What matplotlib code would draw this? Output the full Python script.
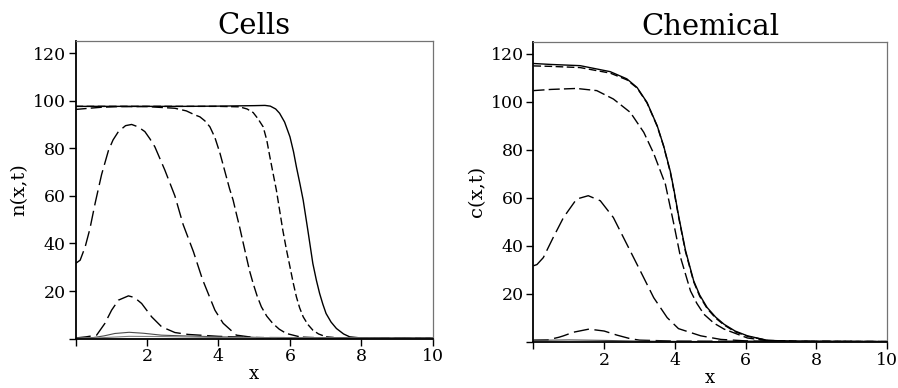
import matplotlib
matplotlib.use('Agg')
import matplotlib.pyplot as plt

plt.rcParams['font.family'] = ['DejaVu Serif']

# ---- Cells: n(x,t) ----
n_solid_x = [0, 1, 2, 3, 4, 5, 5.3, 5.45, 5.6, 5.71, 5.85, 6.0, 6.1, 6.18, 6.28, 6.37, 6.5, 6.64, 6.74, 6.83,
             6.92, 7.01, 7.15, 7.3, 7.5, 7.67, 8, 10]
n_solid_y = [97.6, 97.6, 97.6, 97.6, 97.7, 97.9, 98.0, 97.7, 96.5, 94.7, 91, 84.8, 78.5, 72.2, 65, 58.2, 45.6, 31.6,
             24.5, 19, 14.5, 10.6, 7, 4.3, 2, 0.8, 0.3, 0.1]

n_short_x = [0, 1, 2, 3, 4, 4.59, 4.8, 4.97, 5.1, 5.25, 5.35, 5.43, 5.52, 5.62, 5.71, 5.8, 5.9, 6.0, 6.09, 6.18,
             6.27, 6.37, 6.5, 6.64, 6.8, 7.01, 7.5, 10]
n_short_y = [97.6, 97.6, 97.6, 97.6, 97.6, 97.4, 96.5, 95, 92.5, 89, 83.5, 77, 70, 62.4, 54, 45.6, 37.5, 30.2, 23.5,
             17.6, 13, 9.2, 6, 3.6, 2, 0.8, 0.2, 0.1]

n_med_x = [0, 0.3, 0.7, 1.2, 2.0, 2.78, 3.1, 3.34, 3.48, 3.62, 3.76, 3.9, 4.04, 4.13, 4.22, 4.31, 4.41, 4.5, 4.59,
           4.68, 4.78, 4.87, 4.97, 5.08, 5.2, 5.35, 5.52, 5.7, 5.9, 6.3, 7, 10]
n_med_y = [96.3, 96.7, 97.2, 97.5, 97.5, 96.8, 95.7, 94, 93.2, 91.5, 89, 84.5, 78, 73, 68, 63, 58.2, 52.5, 47,
           41, 34.4, 28.5, 23.2, 18, 13.4, 9.5, 6.4, 4, 2.2, 0.7, 0.3, 0.1]

n_long_x = [0, 0.13, 0.27, 0.4, 0.55, 0.73, 0.92, 1.05, 1.2, 1.4, 1.57, 1.75, 1.94, 2.08, 2.22, 2.5, 2.78, 3.01,
            3.3, 3.55, 3.9, 4.13, 4.5, 5, 6, 10]
n_long_y = [31.6, 33, 38.6, 46, 57, 69, 79, 83.5, 87, 89.5, 90, 89, 87, 84, 80.6, 70.8, 60, 48, 36.5, 25, 12, 6.5,
            1.5, 0.5, 0.2, 0.1]

n_bump_x = [0, 0.3, 0.59, 0.82, 1.01, 1.2, 1.48, 1.65, 1.85, 2.13, 2.41, 2.78, 3.15, 4, 5, 10]
n_bump_y = [0.3, 0.8, 1.5, 6.4, 12, 16.2, 18, 17.3, 14.8, 9.2, 5, 2.6, 1.8, 1, 0.5, 0.2]

n_small_x = [0, 0.5, 0.8, 1.1, 1.5, 1.9, 2.4, 3, 4, 5, 10]
n_small_y = [0.3, 0.5, 1.2, 2.2, 2.7, 2.3, 1.5, 1.2, 0.8, 0.5, 0.2]

n_tiny_x = [0, 0.7, 1.5, 2.5, 4, 10]
n_tiny_y = [0.2, 0.4, 1.0, 0.9, 0.5, 0.2]

# ---- Chemical: c(x,t) ----
c_solid_x = [0, 0.5, 1.32, 2.17, 2.64, 2.93, 3.21, 3.5, 3.68, 3.87, 3.97, 4.11, 4.3, 4.53, 4.7, 4.91, 5.15, 5.39,
             5.7, 6.05, 6.62, 7.5, 10]
c_solid_y = [116, 115.6, 115.1, 112.6, 109.6, 106, 99.8, 90, 81.7, 71, 63.5, 52, 38, 25.4, 19.5, 14.3, 10.3, 7.3,
             4.5, 2.5, 0.6, 0.2, 0.1]

c_short_x = [0, 0.5, 1.32, 2.17, 2.64, 2.93, 3.21, 3.5, 3.68, 3.87, 3.97, 4.11, 4.3, 4.53, 4.7, 4.91, 5.15, 5.39,
             5.7, 6.05, 6.62, 7.5, 10]
c_short_y = [115, 114.8, 114.3, 112, 109.2, 105.8, 99.6, 89.8, 81.5, 70.6, 63, 51.5, 37.5, 25, 19, 13.9, 9.9, 7,
             4.2, 2.3, 0.6, 0.2, 0.1]

c_med_x = [0, 0.5, 1.22, 1.79, 2.26, 2.74, 3.12, 3.4, 3.64, 3.73, 3.97, 4.16, 4.44, 4.62, 4.82, 5.1, 5.39, 6.05,
           6.6, 7.5, 10]
c_med_y = [104.7, 105.2, 105.6, 104.7, 101.2, 95.6, 87.3, 78.5, 69.2, 65.7, 49, 35.1, 21.2, 16, 11.5, 7.8, 5.3,
           1.6, 0.5, 0.2, 0.1]

c_long_x = [0, 0.1, 0.28, 0.56, 0.85, 1.22, 1.55, 1.89, 2.26, 2.64, 3.02, 3.4, 3.78, 4.1, 4.73, 5.3, 6, 7, 10]
c_long_y = [31.7, 32.2, 35.1, 43.5, 51.8, 59.5, 60.9, 58.8, 51.8, 40.7, 29.6, 18.4, 10.1, 5.5, 2.5, 1, 0.4, 0.2, 0.1]

c_bump_x = [0, 0.4, 0.72, 0.85, 1.13, 1.57, 2.0, 2.36, 2.74, 3.0, 4, 10]
c_bump_y = [0.7, 0.8, 1.9, 2.5, 4.0, 5.3, 4.5, 2.8, 1.3, 0.7, 0.3, 0.1]

c_tiny_x = [0, 1, 2, 3, 5, 10]
c_tiny_y = [0.6, 0.8, 0.6, 0.3, 0.1, 0.1]

yticks = [0, 20, 40, 60, 80, 100, 120]
ytick_labels = ['', '20', '40', '60', '80', '100', '120']
xticks = [0, 2, 4, 6, 8, 10]
xtick_labels = ['', '2', '4', '6', '8', '10']

SHORT = (5.5, 2.5)
MED = (8, 3)
LONG = (11, 4)

fig = plt.figure(figsize=(8.98, 3.88), dpi=100)
ax1 = fig.add_axes([0.0841, 0.127, 0.398, 0.767])
ax2 = fig.add_axes([0.594, 0.119, 0.394, 0.773])

def style(ax, title, ylabel):
    ax.set_xlim(0, 10)
    ax.set_ylim(0, 125)
    ax.set_xticks(xticks)
    ax.set_xticklabels(xtick_labels)
    ax.set_yticks(yticks)
    ax.set_yticklabels(ytick_labels)
    ax.tick_params(direction='out', length=5, width=1, labelsize=12.5, pad=2, colors='black')
    ax.set_title(title, fontsize=21, pad=5)
    ax.set_xlabel('x', fontsize=13, labelpad=0)
    ax.set_ylabel(ylabel, fontsize=14, labelpad=3)
    for s in ['top', 'right']:
        ax.spines[s].set_color('0.45')
        ax.spines[s].set_linewidth(0.9)
    for s in ['left', 'bottom']:
        ax.spines[s].set_color('black')
        ax.spines[s].set_linewidth(1.3)

lw = 1.0
ax1.plot(n_solid_x, n_solid_y, color='black', lw=lw)
ax1.plot(n_short_x, n_short_y, color='black', lw=lw, dashes=SHORT)
ax1.plot(n_med_x, n_med_y, color='black', lw=lw, dashes=MED)
ax1.plot(n_long_x, n_long_y, color='black', lw=lw, dashes=LONG)
ax1.plot(n_bump_x, n_bump_y, color='black', lw=lw, dashes=LONG)
ax1.plot(n_small_x, n_small_y, color='0.3', lw=0.8)
ax1.plot(n_tiny_x, n_tiny_y, color='0.5', lw=0.8)
style(ax1, 'Cells', 'n(x,t)')

ax2.plot(c_solid_x, c_solid_y, color='black', lw=lw)
ax2.plot(c_short_x, c_short_y, color='black', lw=lw, dashes=SHORT)
ax2.plot(c_med_x, c_med_y, color='black', lw=lw, dashes=MED)
ax2.plot(c_long_x, c_long_y, color='black', lw=lw, dashes=LONG)
ax2.plot(c_bump_x, c_bump_y, color='black', lw=lw, dashes=LONG)
ax2.plot(c_tiny_x, c_tiny_y, color='0.3', lw=0.8)
style(ax2, 'Chemical', 'c(x,t)')

fig.savefig('out.png', dpi=100)
